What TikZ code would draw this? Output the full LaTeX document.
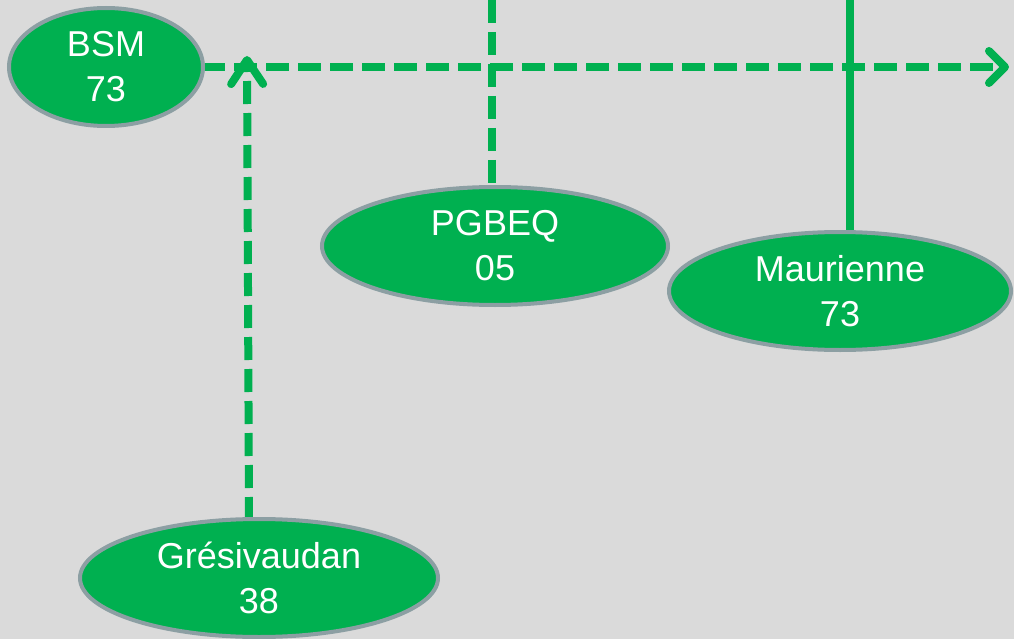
\documentclass[tikz,border=0pt]{standalone}
\usepackage{fontspec}
\setmainfont{Liberation Sans}
\usetikzlibrary{arrows.meta,shapes.geometric}
\definecolor{sitegreen}{HTML}{00B050}
\definecolor{rimgray}{HTML}{8C9FA3}
\definecolor{paper}{HTML}{DADADA}
\tikzset{
  site/.style={ellipse,draw=rimgray,line width=4pt,fill=sitegreen,text=white,
    inner sep=0pt,align=center,font=\fontsize{36}{45}\selectfont},
  link/.style={draw=sitegreen,line width=8pt},
  dashlink/.style={link,dash pattern=on 23pt off 9pt},
  barb/.style={-{Straight Barb[round,length=#1,width=32pt]}},
  barb/.default=16pt
}

\begin{document}
\begin{tikzpicture}[x=1pt,y=-1pt]
\useasboundingbox (0,0) rectangle (1014,639);
\clip (0,0) rectangle (1014,639);
\fill[paper] (0,0) rectangle (1014,639);
\coordinate (endH) at (1009,67);
\coordinate (upTip) at (247,56);
\coordinate (gFoot) at (249,520);
\coordinate (topP) at (492,0);
\coordinate (topM) at (850,0);
% lines first, ellipses on top
\draw[dashlink,barb] (106,67) -- (endH);
\draw[dashlink,barb=24pt] (gFoot) -- (upTip);
\draw[dashlink] (topP) -- (492,190);
\draw[link] (topM) -- (850,236);
\node[site,minimum width=194pt,minimum height=118pt] (BSM) at (106,67) {BSM\\73};
\node[site,minimum width=346pt,minimum height=118pt] (PGBEQ) at (495,246) {PGBEQ\\05};
\node[site,minimum width=342pt,minimum height=118pt] (Maur) at (840,291) {Maurienne\\73};
\node[site,minimum width=358pt,minimum height=118pt] (Gresi) at (259,578) {Grésivaudan\\38};
\end{tikzpicture}
\end{document}
